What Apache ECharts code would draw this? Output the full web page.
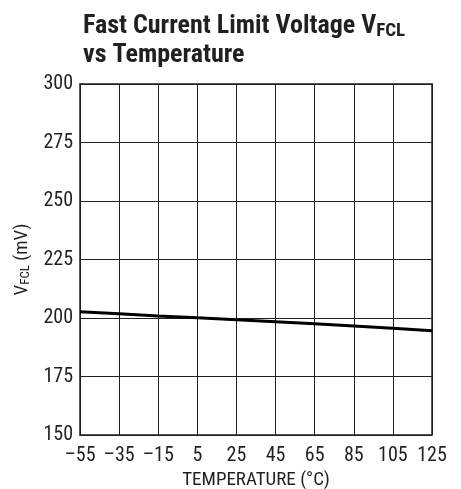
<!DOCTYPE html>
<html>
<head>
<meta charset="utf-8">
<script src="https://cdn.jsdelivr.net/npm/echarts@6/dist/echarts.min.js"></script>
<style>
html,body{margin:0;padding:0;background:#fff;}
#c{width:461px;height:489px;}
</style>
</head>
<body>
<div id="c"></div>
<script>
const temperatures = [-55, -35, -15, 5, 25, 45, 65, 85, 105, 125];
const vfcl = [202.7, 201.8, 200.9, 200.1, 199.3, 198.4, 197.5, 196.6, 195.6, 194.6];
const yTicks = [150, 175, 200, 225, 250, 275, 300];
const xTicks = [-55, -35, -15, 5, 25, 45, 65, 85, 105, 125];

const FONT = '"Liberation Sans Narrow", "Roboto Condensed", "DejaVu Sans Condensed", "Liberation Sans", sans-serif';
const INK = '#231f20';
const chart = echarts.init(document.getElementById('c'), null, {renderer: 'canvas'});
const frameAxis = {type: 'value', axisLine: {show: true, onZero: false, lineStyle: {color: INK, width: 1.5}},
  axisLabel: {show: false}, axisTick: {show: false}, splitLine: {show: false}};
chart.setOption({
  animation: false,
  backgroundColor: '#fff',
  title: {
    text: '{a|Fast Current Limit Voltage V}{s|FCL}\n{a|vs Temperature}',
    left: 78, top: 7,
    textStyle: {
      fontFamily: FONT,
      rich: {
        a: {fontSize: 26, fontWeight: 'bold', color: INK, fontFamily: FONT, lineHeight: 29},
        s: {fontSize: 19, fontWeight: 'bold', color: INK, fontFamily: FONT, lineHeight: 29, padding: [10, 0, 0, 0]}
      }
    }
  },
  grid: {left: 80, top: 84, right: 29, bottom: 54, containLabel: false, outerBoundsMode: 'none'},
  xAxis: [{
    type: 'value', min: -55, max: 125, interval: 20,
    name: 'TEMPERATURE (°C)', nameLocation: 'middle', nameGap: 36,
    nameTextStyle: {fontFamily: FONT, fontSize: 19, color: INK},
    axisLine: {show: true, onZero: false, lineStyle: {color: INK, width: 1.5}},
    axisTick: {show: false},
    axisLabel: {fontFamily: FONT, fontSize: 20, color: INK, margin: 11,
      formatter: v => String(v).replace('-', '\u2013')},
    splitLine: {show: true, lineStyle: {color: INK, width: 1}}
  }, Object.assign({position: 'top', min: -55, max: 125}, frameAxis)],
  yAxis: [{
    type: 'value', min: 150, max: 300, interval: 25,
    name: '{a|V}{s|FCL}{a| (mV)}', nameLocation: 'middle', nameGap: 39, nameRotate: 90,
    nameTextStyle: {fontFamily: FONT, color: INK,
      rich: {
        a: {fontSize: 19, fontFamily: FONT, color: INK, lineHeight: 22},
        s: {fontSize: 13, fontFamily: FONT, color: INK, lineHeight: 22, padding: [7, 0, 0, 0]}
      }},
    axisLine: {show: true, onZero: false, lineStyle: {color: INK, width: 1.5}},
    axisTick: {show: false},
    axisLabel: {fontFamily: FONT, fontSize: 20, color: INK, margin: 7},
    splitLine: {show: true, lineStyle: {color: INK, width: 1}}
  }, Object.assign({position: 'right', min: 150, max: 300}, frameAxis)],
  series: [{
    type: 'line',
    data: temperatures.map((t, i) => [t, vfcl[i]]),
    showSymbol: false,
    lineStyle: {color: '#000', width: 3}
  }]
});
</script>
</body>
</html>
